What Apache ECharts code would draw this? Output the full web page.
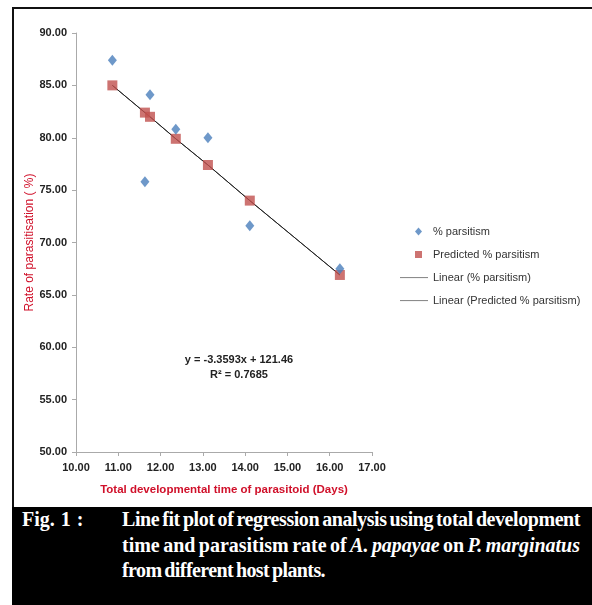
<!DOCTYPE html>
<html>
<head>
<meta charset="utf-8">
<script src="https://cdn.jsdelivr.net/npm/echarts@6/dist/echarts.min.js"></script>
<style>
  html, body { margin: 0; padding: 0; background: #fff; }
  #wrap { position: relative; width: 592px; height: 605px; overflow: hidden; }
  #main { position: absolute; left: 0; top: 0; width: 592px; height: 605px; }
  #topline { position: absolute; left: 12px; top: 7px; width: 580px; height: 2px; background: #111; }
  #leftline { position: absolute; left: 12px; top: 7px; width: 2px; height: 598px; background: #111; }
  #caption {
    position: absolute; left: 12px; top: 507px; width: 580px; height: 98px;
    background: #000; color: #fff;
    font-family: "Liberation Serif", "Times New Roman", serif; font-weight: bold;
    font-size: 20px; line-height: 25.5px;
  }
  #fig { position: absolute; left: 10px; top: 0; word-spacing: 1px; }
  #capText { position: absolute; left: 110px; top: 0; letter-spacing: -0.6px; word-spacing: -1.5px; }
  #capText div { white-space: nowrap; }
  #capText span { display: inline-block; }
</style>
</head>
<body>
<div id="wrap">
  <div id="main"></div>
  <div id="topline"></div>
  <div id="leftline"></div>
  <div id="caption">
    <div id="fig">Fig. 1 :</div>
    <div id="capText">
      <div><span class="fit">Line fit plot of regression analysis using total development</span></div>
      <div><span class="fit">time and parasitism rate of <i>A. papayae</i> on <i>P. marginatus</i></span></div>
      <div><span>from different host plants.</span></div>
    </div>
  </div>
</div>
<script>
// total developmental time (days) for each host plant
var devTime = [10.86, 11.63, 11.75, 12.36, 13.12, 14.11, 16.24];
// observed % parsitism
var parsitism = [87.4, 75.8, 84.1, 80.8, 80.0, 71.6, 67.5];
// predicted % parsitism from the regression
var predicted = [85.0, 82.4, 82.0, 79.9, 77.4, 74.0, 66.9];

var seriesNames = ['% parsitism', 'Predicted % parsitism', 'Linear (% parsitism)', 'Linear (Predicted % parsitism)'];
var equationText = 'y = -3.3593x + 121.46';
var r2Text = 'R\u00b2 = 0.7685';

function pairs(xs, ys) {
    var out = [];
    for (var i = 0; i < xs.length; i++) out.push([xs[i], ys[i]]);
    return out;
}

// caption lines 1 and 2 fill the full column like the printed figure
var capWidth = 458;
document.querySelectorAll('#capText .fit').forEach(function (el) {
    var w = el.getBoundingClientRect().width;
    var n = el.textContent.length;
    el.style.letterSpacing = (-0.6 + (capWidth - w) / n) + 'px';
});

// legend icons inside a 28x8 box (the leading moves fix the box size)
var iconDiamond = 'path://M0,0 M28,8 M18.5,0 L22,4 L18.5,8 L15,4 Z';
var iconSquare = 'path://M0,0 M28,8 M15,0.5 L22,0.5 L22,7.5 L15,7.5 Z';
var iconLine = 'path://M0,0 M28,8 M0,3.5 L28,3.5 L28,4.6 L0,4.6 Z';

var chart = echarts.init(document.getElementById('main'));
var labelFont = { color: '#222', fontSize: 11, fontWeight: 'bold', fontFamily: 'Liberation Sans, Arial, sans-serif' };

var option = {
    animation: false,
    backgroundColor: '#fff',
    grid: { left: 76, top: 33, width: 296, height: 419, containLabel: false },
    xAxis: {
        type: 'value', min: 10, max: 17, interval: 1,
        name: 'Total developmental time of parasitoid (Days)',
        nameLocation: 'middle', nameGap: 32,
        nameTextStyle: { color: '#d0102a', fontSize: 11.5, fontWeight: 'bold', fontFamily: 'Liberation Sans Narrow, Liberation Sans, Arial, sans-serif' },
        axisLine: { lineStyle: { color: '#aaa' } },
        axisTick: { show: true, length: 4, lineStyle: { color: '#aaa' } },
        splitLine: { show: false },
        axisLabel: Object.assign({ margin: 10, formatter: function (v) { return v.toFixed(2); } }, labelFont)
    },
    yAxis: {
        type: 'value', min: 50, max: 90, interval: 5,
        name: 'Rate of parasitisation ( %)',
        nameLocation: 'middle', nameGap: 40, nameRotate: 90,
        nameTextStyle: { color: '#d0102a', fontSize: 12, fontFamily: 'Liberation Sans, Arial, sans-serif' },
        axisLine: { show: true, lineStyle: { color: '#aaa' } },
        axisTick: { show: true, length: 4, lineStyle: { color: '#aaa' } },
        splitLine: { show: false },
        axisLabel: Object.assign({ margin: 9, formatter: function (v) { return v.toFixed(2); } }, labelFont)
    },
    legend: {
        orient: 'vertical', left: 395, top: 221,
        itemWidth: 28, itemHeight: 8, itemGap: 12,
        textStyle: { color: '#333', fontSize: 11, fontFamily: 'Liberation Sans Narrow, Liberation Sans, Arial, sans-serif' },
        data: [
            { name: seriesNames[0], icon: iconDiamond },
            { name: seriesNames[1], icon: iconSquare },
            { name: seriesNames[2], icon: iconLine },
            { name: seriesNames[3], icon: iconLine }
        ]
    },
    graphic: [
        {
            type: 'text', x: 239, y: 352,
            style: { text: equationText + '\n' + r2Text, align: 'center', fill: '#222', font: 'bold 11px Liberation Sans Narrow, Arial, sans-serif', lineHeight: 15 }
        }
    ],
    series: [
        {
            name: seriesNames[2], type: 'line', data: pairs(devTime, predicted),
            symbol: 'none', z: 1,
            lineStyle: { color: '#444', width: 1 }, itemStyle: { color: '#8c8c8c' }
        },
        {
            name: seriesNames[3], type: 'line', data: pairs(devTime, predicted),
            symbol: 'none', z: 1,
            lineStyle: { color: '#222', width: 1 }, itemStyle: { color: '#8c8c8c' }
        },
        {
            name: seriesNames[0], type: 'scatter', data: pairs(devTime, parsitism),
            symbol: 'diamond', symbolSize: [9, 11], z: 3,
            itemStyle: { color: '#4a7ebb' }
        },
        {
            name: seriesNames[1], type: 'scatter', data: pairs(devTime, predicted),
            symbol: 'rect', symbolSize: 10, z: 2,
            itemStyle: { color: '#c0504d' }
        }
    ]
};
chart.setOption(option);
</script>
</body>
</html>
